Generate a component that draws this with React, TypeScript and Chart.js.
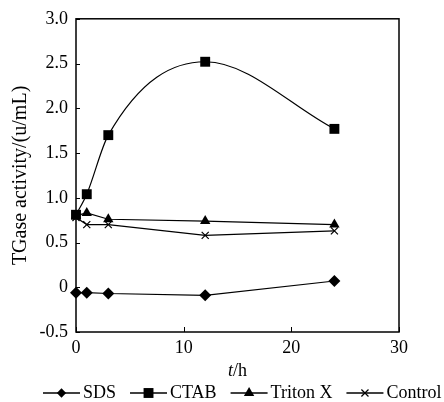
import React, { useEffect, useRef } from "react";
import { Chart, registerables } from "chart.js";

Chart.register(...registerables);

const hours = [0, 1, 3, 12, 24];
const sdsValues = [-0.06, -0.06, -0.07, -0.09, 0.07];
const ctabValues = [0.81, 1.04, 1.7, 2.52, 1.77];
const tritonValues = [0.8, 0.83, 0.76, 0.74, 0.7];
const controlValues = [0.78, 0.7, 0.7, 0.58, 0.63];
const seriesNames = ["SDS", "CTAB", "Triton X", "Control"];
const pointStyles = ["rectRot", "rect", "triangle", "crossRot"];
const pointRadii = [6, 7, 6, 5];
const xTicks = [0, 10, 20, 30];
const yTicks = [-0.5, 0, 0.5, 1, 1.5, 2, 2.5, 3];
const yTitle = "TGase activity/(u/mL)";

const FONT = '"Liberation Serif", "Times New Roman", serif';

function drawPoint(ctx: CanvasRenderingContext2D, style: string, r: number, x: number, y: number) {
  ctx.save();
  ctx.fillStyle = "#000";
  ctx.strokeStyle = "#000";
  ctx.lineWidth = 1.2;
  ctx.beginPath();
  if (style === "rect") {
    const s = r * Math.SQRT1_2;
    ctx.rect(x - s, y - s, 2 * s, 2 * s);
    ctx.fill();
  } else if (style === "rectRot") {
    const s = r * Math.SQRT1_2 * 1.1;
    ctx.moveTo(x - s, y);
    ctx.lineTo(x, y - s);
    ctx.lineTo(x + s, y);
    ctx.lineTo(x, y + s);
    ctx.closePath();
    ctx.fill();
  } else if (style === "triangle") {
    ctx.moveTo(x, y - r);
    ctx.lineTo(x + r * 0.866, y + r * 0.5);
    ctx.lineTo(x - r * 0.866, y + r * 0.5);
    ctx.closePath();
    ctx.fill();
  } else {
    const s = r * Math.SQRT1_2;
    ctx.moveTo(x - s, y - s);
    ctx.lineTo(x + s, y + s);
    ctx.moveTo(x + s, y - s);
    ctx.lineTo(x - s, y + s);
    ctx.stroke();
  }
  ctx.restore();
}

const framePlugin = {
  id: "frame",
  afterDraw(chart: any) {
    const { ctx, chartArea: a, scales } = chart;
    ctx.save();
    ctx.strokeStyle = "#000";
    ctx.lineWidth = 1.5;
    ctx.strokeRect(a.left, a.top, a.right - a.left, a.bottom - a.top);
    ctx.lineWidth = 1;
    ctx.beginPath();
    xTicks.forEach((v) => {
      const px = Math.round(scales.x.getPixelForValue(v)) + 0.5;
      ctx.moveTo(px, a.bottom);
      ctx.lineTo(px, a.bottom - 5);
    });
    yTicks.forEach((v) => {
      const py = Math.round(scales.y.getPixelForValue(v)) + 0.5;
      ctx.moveTo(a.left, py);
      ctx.lineTo(a.left + 4, py);
    });
    ctx.stroke();

    // y title
    ctx.fillStyle = "#000";
    ctx.font = `20px ${FONT}`;
    ctx.textAlign = "center";
    ctx.textBaseline = "middle";
    ctx.save();
    ctx.translate(21, (a.top + a.bottom) / 2);
    ctx.rotate(-Math.PI / 2);
    ctx.fillText(yTitle, 0, 0);
    ctx.restore();

    // x title "t/h"
    ctx.textAlign = "left";
    ctx.font = `italic 18px ${FONT}`;
    const tW = ctx.measureText("t").width;
    ctx.font = `18px ${FONT}`;
    const hW = ctx.measureText("/h").width;
    const cx = (a.left + a.right) / 2;
    const startX = cx - (tW + hW) / 2;
    ctx.font = `italic 18px ${FONT}`;
    ctx.fillText("t", startX, 371);
    ctx.font = `18px ${FONT}`;
    ctx.fillText("/h", startX + tW, 371);

    // legend
    const ly = 393;
    let lx = 43;
    ctx.font = `18px ${FONT}`;
    chart.data.datasets.forEach((ds: any, i: number) => {
      const lineLen = 37;
      ctx.strokeStyle = "#000";
      ctx.lineWidth = 1.3;
      ctx.beginPath();
      ctx.moveTo(lx, ly);
      ctx.lineTo(lx + lineLen, ly);
      ctx.stroke();
      drawPoint(ctx, pointStyles[i], pointRadii[i], lx + lineLen / 2, ly);
      ctx.fillStyle = "#000";
      ctx.textAlign = "left";
      ctx.fillText(ds.label, lx + lineLen + 3, ly);
      lx += lineLen + 3 + ctx.measureText(ds.label).width + 14;
    });
    ctx.restore();
  },
};

export default function App() {
  const ref = useRef<HTMLCanvasElement>(null);
  useEffect(() => {
    document.body.style.margin = "0";
    const seriesValues = [sdsValues, ctabValues, tritonValues, controlValues];
    const chart = new Chart(ref.current!, {
      type: "line",
      data: {
        datasets: seriesNames.map((name, i) => ({
          label: name,
          data: hours.map((h, j) => ({ x: h, y: seriesValues[i][j] })),
          borderColor: "#000",
          backgroundColor: "#000",
          borderWidth: 1.2,
          pointStyle: pointStyles[i] as any,
          pointRadius: pointRadii[i],
          pointBorderWidth: pointStyles[i] === "crossRot" ? 1.2 : 0,
          pointBackgroundColor: "#000",
          pointBorderColor: "#000",
          tension: name === "CTAB" ? 0.4 : 0,
          cubicInterpolationMode: name === "CTAB" ? "monotone" : "default",
          clip: false as any,
        })),
      },
      options: {
        animation: false,
        responsive: false,
        layout: { padding: { top: 18, right: 45, bottom: 46, left: 0 } },
        plugins: { legend: { display: false }, tooltip: { enabled: false } },
        scales: {
          x: {
            type: "linear",
            min: 0,
            max: 30,
            afterFit: (s: any) => {
              s.height = 24;
            },
            afterBuildTicks: (s: any) => {
              s.ticks = xTicks.map((v) => ({ value: v }));
            },
            grid: { display: false, drawTicks: false },
            border: { display: false },
            ticks: {
              padding: 5,
              color: "#000",
              font: { family: FONT, size: 18 },
              maxRotation: 0,
            },
          },
          y: {
            type: "linear",
            min: -0.5,
            max: 3,
            afterFit: (s: any) => {
              s.width = 76;
            },
            afterBuildTicks: (s: any) => {
              s.ticks = yTicks.map((v) => ({ value: v }));
            },
            grid: { display: false, drawTicks: false },
            border: { display: false },
            ticks: {
              padding: 8,
              color: "#000",
              font: { family: FONT, size: 18 },
              callback: (v: any) => (Number(v) === 0 ? "0" : Number(v).toFixed(1)),
            },
          },
        },
      },
      plugins: [framePlugin],
    });
    return () => chart.destroy();
  }, []);
  return <canvas ref={ref} width={444} height={402} style={{ display: "block" }} />;
}
